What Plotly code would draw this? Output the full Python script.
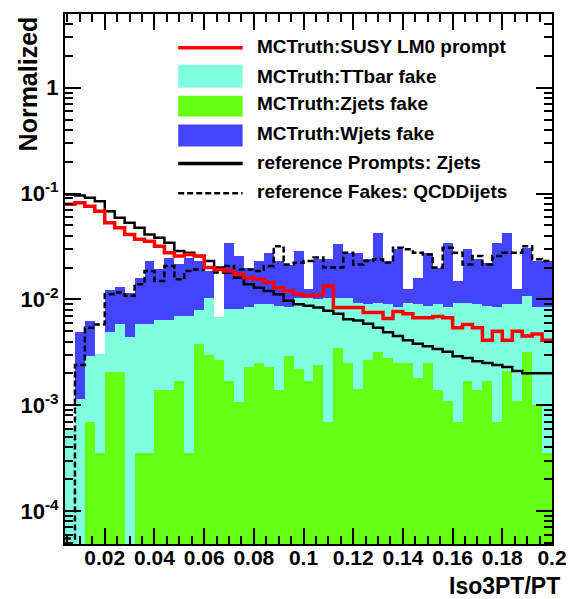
import numpy as np
import plotly.graph_objects as go

# ---------------- data (49 bins of width 0.004 from 0.004 to 0.2) ----------------
bin_lo = 0.004
bin_w = 0.004
n_bins = 49

susy_prompt = [0.079, 0.082, 0.076, 0.068, 0.053, 0.0475, 0.041, 0.037, 0.0355, 0.0318,
               0.0276, 0.0257, 0.0266, 0.0257, 0.020, 0.0192, 0.0185, 0.0173, 0.016, 0.0155,
               0.0144, 0.0129, 0.012, 0.0112, 0.0108, 0.011, 0.0134, 0.0084, 0.0084, 0.0084,
               0.0075, 0.0075, 0.0066, 0.0077, 0.0073, 0.0067, 0.0067, 0.0069, 0.0067, 0.0054,
               0.0058, 0.0054, 0.0041, 0.0050, 0.0041, 0.0050, 0.0045, 0.0047, 0.0041]

ref_prompts_zjets = [0.098, 0.096, 0.091, 0.0845, 0.068, 0.059, 0.053, 0.0475, 0.0411, 0.0382,
                     0.0342, 0.0286, 0.0276, 0.0257, 0.023, 0.020, 0.0179, 0.016, 0.0139, 0.0129,
                     0.012, 0.0112, 0.0097, 0.009, 0.0087, 0.0084, 0.0078, 0.0073, 0.0065, 0.0063,
                     0.0059, 0.0054, 0.0049, 0.0045, 0.0041, 0.0038, 0.0036, 0.0034, 0.0032, 0.0029,
                     0.0028, 0.0026, 0.0025, 0.0024, 0.0023, 0.0021, 0.0020, 0.0020, 0.0020]

ref_fakes_qcd = [5.5e-5, 0.0024, 0.0054, 0.0058, 0.0112, 0.0116, 0.0108, 0.0139, 0.0185, 0.0149,
                 0.0207, 0.0155, 0.0185, 0.0192, 0.020, 0.0179, 0.0207, 0.0192, 0.0192, 0.0185,
                 0.0207, 0.0318, 0.0214, 0.0222, 0.023, 0.0248, 0.020, 0.020, 0.0276, 0.0214,
                 0.023, 0.0239, 0.0222, 0.0307, 0.0297, 0.0276, 0.0266, 0.020, 0.0307, 0.0276,
                 0.0214, 0.0257, 0.0214, 0.0257, 0.0276, 0.0276, 0.0318, 0.0239, 0.023]

zjets_fake = [0, 0, 0.00069, 0.00035, 0.00205, 0.00205, 0, 0.00035, 0.00035, 0.0014,
              0.0014, 0.0017, 0.00035, 0.0038, 0.0030, 0.0027, 0.0017, 0.00107, 0.0023, 0.0025,
              0.0023, 0.0014, 0.0029, 0.0022, 0.0017, 0.0024, 0.00069, 0.0035, 0.0025, 0.00143,
              0.0027, 0.0032, 0.0028, 0.0025, 0.0025, 0.0018, 0.0025, 0.0014, 0.0011, 0.0007,
              0.0017, 0.0014, 0.0017, 0.0007, 0.0021, 0.0011, 0.0032, 0.0010, 0.00035]

ttbar_fake = [0.0006, 0.00114, 0.00221, 0.0027, 0.00285, 0.00375, 0.0044, 0.00545, 0.00545, 0.005,
              0.005, 0.0053, 0.00665, 0.0041, 0.0074, 0.0041, 0.0064, 0.0070, 0.0061, 0.0065,
              0.0067, 0.0073, 0.0055, 0.0082, 0.0087, 0.0076, 0.0097, 0.0069, 0.0079, 0.0079,
              0.0063, 0.0061, 0.0062, 0.0059, 0.0068, 0.0072, 0.0062, 0.0076, 0.0073, 0.0086,
              0.0076, 0.0076, 0.0070, 0.0077, 0.0069, 0.0079, 0.0076, 0.0074, 0.0081]

wjets_fake = [0, 0.00376, 0.0034, 0, 0.0073, 0.0074, 0.0072, 0.0102, 0.0172, 0.0129,
              0.0184, 0.0144, 0.0178, 0.0151, 0.0081, 0, 0.0261, 0.0176, 0.0116, 0.014,
              0.0186, 0.0143, 0.0126, 0.0182, 0.0021, 0.014, 0.0136, 0.0226, 0.0172, 0.0183,
              0.015, 0.0332, 0.014, 0.0213, 0.0032, 0.007, 0.0189, 0.011, 0.0259, 0.0056,
              0.0204, 0.015, 0.0135, 0.0259, 0.0335, 0.0035, 0.0199, 0.0146, 0.0146]

x_tickvals = [0.02, 0.04, 0.06, 0.08, 0.1, 0.12, 0.14, 0.16, 0.18, 0.2]
x_ticktext = ["0.02", "0.04", "0.06", "0.08", "0.1", "0.12", "0.14", "0.16", "0.18", "0.2"]
y_tickvals = [1e-4, 1e-3, 1e-2, 1e-1, 1]
y_ticktext = ["10<sup>-4</sup>", "10<sup>-3</sup>", "10<sup>-2</sup>", "10<sup>-1</sup>", "1"]

legend_labels = ["MCTruth:SUSY LM0 prompt", "MCTruth:TTbar fake", "MCTruth:Zjets fake",
                 "MCTruth:Wjets fake", "reference Prompts: Zjets", "reference Fakes: QCDDijets"]

# ---------------- colours / geometry ----------------
C_RED = "#ff0000"
C_CYAN = "#7fffdf"
C_GREEN = "#66ff14"
C_BLUE = "#4444ff"
FONT = "Liberation Sans"

W, H = 579, 599
ML, MR, MT, MB = 65, 15, 12, 55
PW, PH = W - ML - MR, H - MT - MB

edges = np.round(bin_lo + bin_w * np.arange(n_bins + 1), 6)
centers = edges[:-1] + bin_w / 2


def step_y(vals):
    return list(vals) + [vals[-1]]


fig = go.Figure()
fig.add_trace(go.Bar(x=centers, y=zjets_fake, width=bin_w, marker=dict(color=C_GREEN, line=dict(width=0)),
                     showlegend=False))
fig.add_trace(go.Bar(x=centers, y=ttbar_fake, width=bin_w, marker=dict(color=C_CYAN, line=dict(width=0)),
                     showlegend=False))
fig.add_trace(go.Bar(x=centers, y=wjets_fake, width=bin_w, marker=dict(color=C_BLUE, line=dict(width=0)),
                     showlegend=False))

fig.add_trace(go.Scatter(x=edges, y=step_y(ref_fakes_qcd), mode="lines", line_shape="hv",
                         line=dict(color="black", width=2.5, dash="6px,3px"), showlegend=False))
fig.add_trace(go.Scatter(x=edges, y=step_y(ref_prompts_zjets), mode="lines", line_shape="hv",
                         line=dict(color="black", width=2.5), showlegend=False))
fig.add_trace(go.Scatter(x=edges, y=step_y(susy_prompt), mode="lines", line_shape="hv",
                         line=dict(color=C_RED, width=3.5), showlegend=False))

# minor ticks for log axis
y_minor = [k * 10.0 ** e for e in range(-5, 1) for k in range(2, 10)]

fig.update_layout(
    width=W, height=H,
    margin=dict(l=ML, r=MR, t=MT, b=MB),
    paper_bgcolor="white", plot_bgcolor="white",
    barmode="stack", bargap=0,
    font=dict(family=FONT, color="black"),
    showlegend=False,
    xaxis=dict(range=[bin_lo, 0.2], showgrid=False, zeroline=False,
               showline=True, linecolor="black", linewidth=2, mirror="ticks",
               ticks="inside", ticklen=16, tickwidth=1.5, tickcolor="black",
               tickmode="array", tickvals=x_tickvals, ticktext=x_ticktext,
               tickfont=dict(size=21, family=FONT, weight="bold"), ticklabelstandoff=-6,
               minor=dict(ticks="inside", ticklen=8, tickwidth=1.5, tickcolor="black",
                          dtick=0.005, tick0=0, showgrid=False)),
    yaxis=dict(type="log", range=[-4.311, 0.696], showgrid=False, zeroline=False,
               showline=True, linecolor="black", linewidth=2, mirror="ticks",
               ticks="inside", ticklen=16, tickwidth=1.5, tickcolor="black",
               tickmode="array", tickvals=y_tickvals, ticktext=y_ticktext,
               tickfont=dict(size=22, family=FONT, weight="bold"),
               minor=dict(ticks="inside", ticklen=8, tickwidth=1.5, tickcolor="black",
                          tickmode="array", tickvals=y_minor, showgrid=False)),
)


def px(X, Y):
    return (X - ML) / PW, (H - MB - Y) / PH


shapes = []
annos = []
LX0, LX1, TX = 181, 247, 260
rows_y = [45, 75, 102, 132, 161, 190]
# red line
x0, y0 = px(LX0, 46); x1, _ = px(LX1, 46)
shapes.append(dict(type="line", xref="paper", yref="paper", x0=x0, x1=x1, y0=y0, y1=y0,
                   line=dict(color=C_RED, width=3.5)))
# boxes
for (ya, yb), col in zip([(63, 86), (94, 115), (123, 145)], [C_CYAN, C_GREEN, C_BLUE]):
    x0, y0 = px(LX0, yb); x1, y1 = px(LX1, ya)
    shapes.append(dict(type="rect", xref="paper", yref="paper", x0=x0, x1=x1, y0=y0, y1=y1,
                       fillcolor=col, line=dict(width=0)))
x0, y0 = px(LX0, 162); x1, _ = px(LX1, 162)
shapes.append(dict(type="line", xref="paper", yref="paper", x0=x0, x1=x1, y0=y0, y1=y0,
                   line=dict(color="black", width=3.5)))
x0, y0 = px(LX0, 192); x1, _ = px(LX1, 192)
shapes.append(dict(type="line", xref="paper", yref="paper", x0=x0, x1=x1, y0=y0, y1=y0,
                   line=dict(color="black", width=2.5, dash="6px,3px")))
for lab, yy in zip(legend_labels, rows_y):
    ax, ay = px(TX, yy)
    annos.append(dict(text=lab, xref="paper", yref="paper", x=ax, y=ay, xanchor="left",
                      yanchor="middle", showarrow=False,
                      font=dict(size=19, family=FONT, weight="bold")))

# axis titles
ax, ay = px(27, MT)
annos.append(dict(text="Normalized", xref="paper", yref="paper", x=ax, y=ay, xanchor="center",
                  yanchor="top", textangle=-90, showarrow=False,
                  font=dict(size=25, family=FONT, weight="bold")))
ax, ay = px(574, 586)
annos.append(dict(text="Iso3PT/PT", xref="paper", yref="paper", x=ax, y=ay, xanchor="right",
                  yanchor="middle", showarrow=False,
                  font=dict(size=23, family=FONT, weight="bold")))

fig.update_layout(shapes=shapes, annotations=annos)
fig.write_html("out.html")
